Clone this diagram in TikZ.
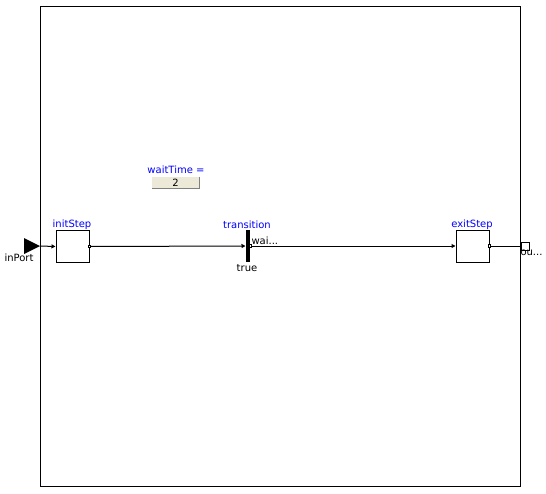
\documentclass[tikz,border=0pt]{standalone}
\usepackage{fontspec}
\setmainfont{DejaVu Sans}
\usetikzlibrary{arrows.meta}
\definecolor{mblue}{RGB}{0,0,255}
\definecolor{btngray}{RGB}{236,233,216}
\definecolor{btndark}{RGB}{128,128,128}

\begin{document}
\begin{tikzpicture}[x=1pt,y=-1pt,line width=1pt,
        font=\fontsize{10}{11}\selectfont,
        stepbox/.style={draw,fill=white,minimum width=33pt,minimum height=32pt,inner sep=0pt},
        lbl/.style={text=mblue,inner sep=0pt},
        txt/.style={inner sep=0pt},
        dot/.style={draw,fill=white,minimum size=2.5pt,inner sep=0pt,line width=0.6pt},
        flow/.style={-{Triangle[length=4pt,width=4pt]}}]
        \useasboundingbox (0,0) rectangle (546,493);
        \draw (40,6) rectangle (520,486);
        % parameter
        \node[lbl](waitLabel)at(176,170){waitTime =};
        \node[fill=btngray,minimum width=47pt,minimum height=11pt,inner sep=0pt](waitBtn)at(175.5,182.5){2};
        \draw[white](waitBtn.south west)--(waitBtn.north west)--(waitBtn.north east);
        \draw[btndark](waitBtn.north east)--(waitBtn.south east)--(waitBtn.south west);
        % steps and transition
        \fill (24,238)--(40,246)--(24,254)--cycle;
        \coordinate(inPort)at(40,246);
        \node[txt](inPortLabel)at(19,258){inPort};
        \node[stepbox](initStep)at(72.5,246.5){};
        \node[lbl](initStepLabel)at(72,225){initStep};
        \node[fill,minimum width=4pt,minimum height=32pt,inner sep=0pt](transition)at(248,246){};
        \node[lbl](transitionLabel)at(247,225){transition};
        \node[txt](trueLabel)at(247,268){true};
        \node[txt,anchor=west](waitShort)at(251,241){wai...};
        \node[stepbox](exitStep)at(472.5,246){};
        \node[lbl](exitStepLabel)at(472,225){exitStep};
        \node[draw,fill=white,minimum size=8pt,inner sep=0pt](outPort)at(525,246){};
        \node[txt,anchor=west](outPortLabel)at(520,253){ou...};
        \draw[flow](inPort)--(initStep.west);
        \draw[flow](initStep.east)--(transition.west);
        \draw[flow](transition.east)--(exitStep.west);
        \draw(exitStep.east)--(outPort.west);
        \node[dot](initOut)at(initStep.east){};
        \node[dot](transitionOut)at(transition.east){};
        \node[dot](exitOut)at(exitStep.east){};
\end{tikzpicture}
\end{document}
